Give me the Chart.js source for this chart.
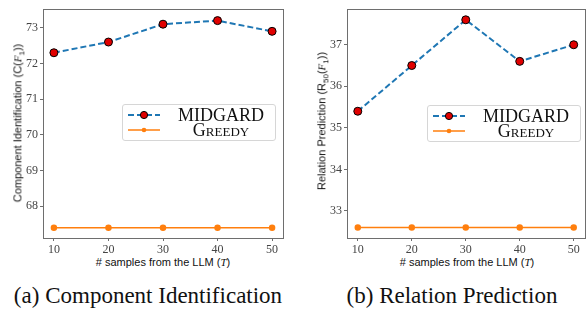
<!DOCTYPE html>
<html>
<head>
<meta charset="utf-8">
<script src="https://cdn.jsdelivr.net/npm/chart.js@4.4.0/dist/chart.umd.min.js"></script>
<style>
    body { margin: 0; width: 587px; height: 310px; overflow: hidden; background: #fff; position: relative; }
    .box { position: absolute; }
    .ytitle, .xtitle { position: absolute; font-family: "Liberation Sans", Arial, sans-serif; font-size: 11px; color: #111; white-space: nowrap; }
    .ytitle { transform: translate(-50%, -50%) rotate(-90deg); }
    .xtitle { transform: translate(-50%, -50%); }
    .ytitle i, .xtitle i { font-family: "Liberation Serif", serif; }
    .caption { position: absolute; font-family: "Liberation Serif", "Times New Roman", serif; font-size: 23px; color: #111; transform: translate(-50%, -50%); white-space: nowrap; }
    .legend { position: absolute; width: 154px; height: 37px; border: 1px solid #d6d6d6; border-radius: 3px; background: #fff; box-sizing: border-box; font-family: "Liberation Serif", serif; color: #111; }
    .legend .row { position: absolute; left: 0; width: 100%; height: 16px; }
    .legend svg { position: absolute; left: 4px; top: 0; }
    .legend span { position: absolute; left: 48px; width: 100px; text-align: center; line-height: 16px; }
</style>
</head>
<body>

<div class="box" style="left:0;top:0;width:290px;height:255px;"><canvas id="compChart"></canvas></div>
<div class="box" style="left:290px;top:0;width:300px;height:255px;"><canvas id="relChart"></canvas></div>

<div class="ytitle" style="left:19px;top:123px;">Component Identification (C(<i>F</i><sub style="font-size:8px">1</sub>))</div>
<div class="ytitle" style="left:323px;top:121px;">Relation Prediction (R<sub style="font-size:8px">50</sub>(<i>F</i><sub style="font-size:8px">1</sub>))</div>

<div class="xtitle" style="left:163px;top:262px;"># samples from the LLM (<i>T</i>)</div>
<div class="xtitle" style="left:467px;top:262px;"># samples from the LLM (<i>T</i>)</div>

<div class="caption" style="left:148px;top:296px;">(a) Component Identification</div>
<div class="caption" style="left:452px;top:296px;">(b) Relation Prediction</div>

<div class="legend" style="left:122px;top:104px;">
    <div class="row" style="top:2px;">
        <svg width="34" height="16"><line x1="1" y1="8" x2="33" y2="8" stroke="#1f77b4" stroke-width="2" stroke-dasharray="6,3"/><circle cx="17" cy="8" r="3.6" fill="#e00000" stroke="#000" stroke-width="1"/></svg>
        <span style="font-size:18px;">MIDGARD</span>
    </div>
    <div class="row" style="top:17px;">
        <svg width="34" height="16"><line x1="1" y1="8" x2="33" y2="8" stroke="#ff7f0e" stroke-width="1.5"/><circle cx="17" cy="8" r="2.3" fill="#ff7f0e"/></svg>
        <span style="font-size:18px;font-variant:small-caps;">Greedy</span>
    </div>
</div>

<div class="legend" style="left:427px;top:105px;">
    <div class="row" style="top:2px;">
        <svg width="34" height="16"><line x1="1" y1="8" x2="33" y2="8" stroke="#1f77b4" stroke-width="2" stroke-dasharray="6,3"/><circle cx="17" cy="8" r="3.6" fill="#e00000" stroke="#000" stroke-width="1"/></svg>
        <span style="font-size:18px;">MIDGARD</span>
    </div>
    <div class="row" style="top:17px;">
        <svg width="34" height="16"><line x1="1" y1="8" x2="33" y2="8" stroke="#ff7f0e" stroke-width="1.5"/><circle cx="17" cy="8" r="2.3" fill="#ff7f0e"/></svg>
        <span style="font-size:18px;font-variant:small-caps;">Greedy</span>
    </div>
</div>

<script>
// data
const samples = [10, 20, 30, 40, 50];

const compMidgard = [72.3, 72.6, 73.1, 73.2, 72.9];
const compGreedy = [67.4, 67.4, 67.4, 67.4, 67.4];
const compTicks = [68, 69, 70, 71, 72, 73];

const relMidgard = [35.4, 36.5, 37.6, 36.6, 37.0];
const relGreedy = [32.6, 32.6, 32.6, 32.6, 32.6];
const relTicks = [33, 34, 35, 36, 37];

const xTicks = [10, 20, 30, 40, 50];

function points(ys) {
    return samples.map((x, i) => ({ x: x, y: ys[i] }));
}

// full box round the plot area
const framePlugin = {
    id: "frame",
    afterDraw(chart) {
        const a = chart.chartArea;
        const ctx = chart.ctx;
        ctx.save();
        ctx.strokeStyle = "#6e6e6e";
        ctx.lineWidth = 1;
        ctx.strokeRect(Math.round(a.left) + 0.5, Math.round(a.top) + 0.5, Math.round(a.right - a.left), Math.round(a.bottom - a.top));
        ctx.restore();
    }
};

const tickFont = { family: "'Liberation Serif', 'Times New Roman', serif", size: 12 };

function makeChart(id, midgard, greedy, yTicks, yMin, yMax, yWidth, padRight) {
    return new Chart(document.getElementById(id), {
        type: "line",
        data: {
            datasets: [{
                label: "MIDGARD",
                data: points(midgard),
                borderColor: "#1f77b4",
                borderWidth: 2,
                borderDash: [6, 3],
                pointBackgroundColor: "#e00000",
                pointBorderColor: "#000",
                pointBorderWidth: 1,
                pointRadius: 4,
                tension: 0,
                fill: false
            }, {
                label: "Greedy",
                data: points(greedy),
                borderColor: "#ff7f0e",
                borderWidth: 1.5,
                pointBackgroundColor: "#ff7f0e",
                pointBorderColor: "#ff7f0e",
                pointRadius: 2.5,
                tension: 0,
                fill: false
            }]
        },
        options: {
            responsive: true,
            maintainAspectRatio: false,
            animation: false,
            layout: { padding: { top: 8, right: padRight, left: 0, bottom: 0 } },
            plugins: { legend: { display: false }, tooltip: { enabled: false } },
            scales: {
                x: {
                    type: "linear",
                    min: 8,
                    max: 52,
                    afterBuildTicks: s => { s.ticks = xTicks.map(v => ({ value: v })); },
                    afterFit: s => { s.height = 17; },
                    border: { display: false },
                    grid: { drawOnChartArea: false, drawTicks: true, tickLength: 3, color: "#6e6e6e" },
                    ticks: { color: "#444", padding: 2, maxRotation: 0, font: tickFont }
                },
                y: {
                    min: yMin,
                    max: yMax,
                    afterBuildTicks: s => { s.ticks = yTicks.map(v => ({ value: v })); },
                    afterFit: s => { s.width = yWidth; },
                    border: { display: false },
                    grid: { drawOnChartArea: false, drawTicks: true, tickLength: 3, color: "#6e6e6e" },
                    ticks: { color: "#444", padding: 2, font: tickFont }
                }
            }
        },
        plugins: [framePlugin]
    });
}

makeChart("compChart", compMidgard, compGreedy, compTicks, 67.11, 73.52, 43, 7);
makeChart("relChart", relMidgard, relGreedy, relTicks, 32.35, 37.855, 57, 2);
</script>
</body>
</html>
